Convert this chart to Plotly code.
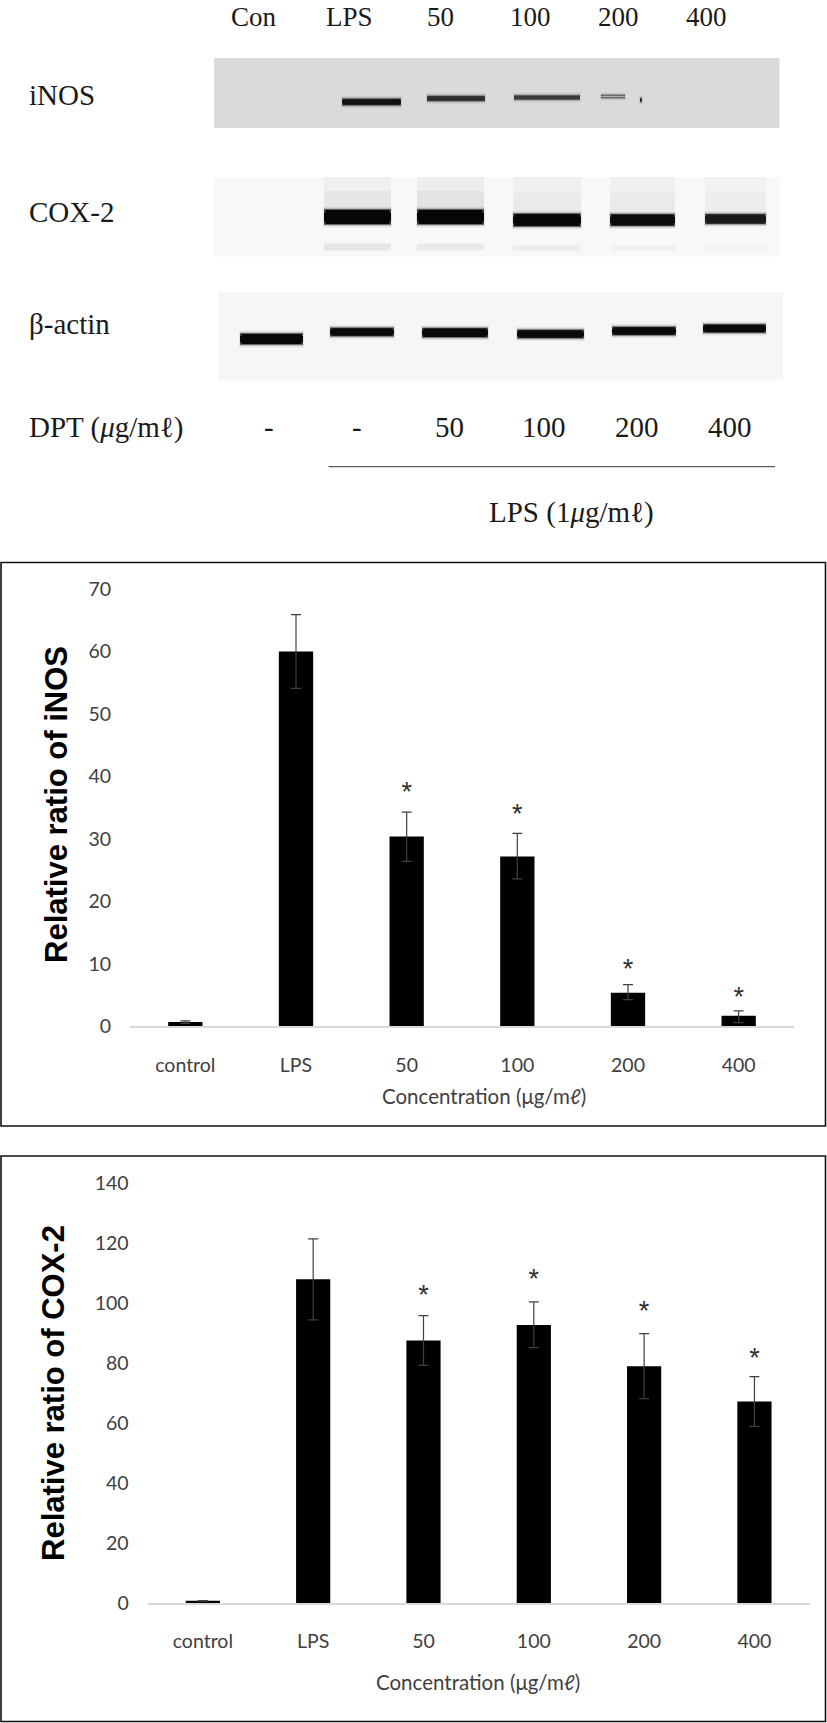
import plotly.graph_objects as go

W, H = 827, 1723

# ---- bar chart data ----
categories = ["control", "LPS", "50", "100", "200", "400"]
inos_values = [0.7, 60, 30.4, 27.2, 5.4, 1.7]
inos_err_plus = [0.2, 5.9, 3.9, 3.7, 1.3, 0.8]
inos_err_minus = [0.2, 5.9, 4.0, 3.6, 1.1, 1.1]
inos_star_level = [None, None, 37.1, 33.6, 8.8, 4.3]
inos_ticks = [0, 10, 20, 30, 40, 50, 60, 70]

cox_values = [0.7, 108, 87.6, 92.8, 79, 67.2]
cox_err_plus = [0.1, 13.5, 8.3, 7.7, 10.9, 8.3]
cox_err_minus = [0.1, 13.5, 8.3, 7.6, 10.8, 8.3]
cox_star_level = [None, None, 102, 107.3, 96.8, 81]
cox_ticks = [0, 20, 40, 60, 80, 100, 120, 140]

# ---- western blot bands: lane label, left, right, height, thickness, tone ----
inos_bands = [("LPS", 342, 401, 102, 5.5, "#111111"), ("50", 427, 485, 98.5, 4, "#2a2a2a"),
              ("100", 514, 580, 97.5, 3, "#3a3a3a"), ("200", 601, 625, 96.5, 1.5, "#b0b0b0"),
              ("200b", 640, 642, 100, 2.5, "#222222")]
cox_bands = [("LPS", 324, 391, 217, 14, "#060606"), ("50", 417, 484, 217, 14, "#060606"),
             ("100", 513, 581, 220, 12, "#080808"), ("200", 610, 675, 220, 11, "#0c0c0c"),
             ("400", 705, 766, 219, 9, "#1a1a1a")]
actin_bands = [("Con", 240, 303, 339, 10, "#060606"), ("LPS", 330, 394, 332, 7.5, "#0a0a0a"),
               ("50", 422, 488, 332.7, 8.5, "#0a0a0a"), ("100", 517, 584, 334, 7.5, "#0a0a0a"),
               ("200", 612, 676, 331, 7.5, "#0a0a0a"), ("400", 703, 766, 328.5, 7.5, "#0a0a0a")]
# faint smears: left, right, centre height, thickness, tone
cox_smears = [(324, 391, 194, 34, "rgba(0,0,0,0.035)"), (417, 484, 194, 34, "rgba(0,0,0,0.045)"),
              (513, 581, 194, 34, "rgba(0,0,0,0.03)"), (610, 675, 194, 34, "rgba(0,0,0,0.03)"),
              (705, 766, 194, 34, "rgba(0,0,0,0.025)"),
              (324, 391, 201, 20, "rgba(0,0,0,0.03)"), (417, 484, 201, 20, "rgba(0,0,0,0.04)"),
              (513, 581, 203, 20, "rgba(0,0,0,0.025)"), (610, 675, 203, 20, "rgba(0,0,0,0.025)"),
              (705, 766, 203, 20, "rgba(0,0,0,0.02)"),
              (324, 391, 247, 7, "rgba(0,0,0,0.07)"), (417, 484, 247, 7, "rgba(0,0,0,0.055)"),
              (513, 581, 248, 6, "rgba(0,0,0,0.04)"), (610, 675, 248, 6, "rgba(0,0,0,0.03)"),
              (705, 766, 248, 6, "rgba(0,0,0,0.015)")]

blot_panels = [(214, 779.5, 58, 128, "#dadada"), (214, 779.5, 177, 256.6, "#f8f8f8"),
               (218, 783, 292, 380.6, "#f6f6f6")]

SERIF = "Liberation Serif"
top_labels = [("Con", 254), ("LPS", 349), ("50", 440), ("100", 530), ("200", 618), ("400", 706)]
row_labels = [("iNOS", 95), ("COX-2", 212), ("β-actin", 324), ("DPT (<i>μ</i>g/mℓ)", 427)]
dose_labels = [("-", 269), ("-", 357), ("50", 449), ("100", 544), ("200", 637), ("400", 730)]

NARROW = "Lato"
TICK = "#404040"
TICK_SIZE = 19.5


def dom(top, bottom):
    return [1 - bottom / H, 1 - top / H]


fig = go.Figure()
fig.update_layout(template="none")

# overlay axes in image coordinates for the blot region and page furniture
fig.update_layout(
    xaxis3=dict(domain=[0, 1], range=[0, W], visible=False, anchor="y3", fixedrange=True, automargin=False),
    yaxis3=dict(domain=[0, 1], range=[H, 0], visible=False, anchor="x3", fixedrange=True, automargin=False),
)


def band(x0, x1, y, width, color):
    fig.add_trace(go.Scatter(x=[x0, x1], y=[y, y], mode="lines", xaxis="x3", yaxis="y3",
                             line=dict(color=color, width=width), hoverinfo="skip", showlegend=False))


for x0, x1, y, t, c in cox_smears:
    band(x0, x1, y, t, c)
for group in (inos_bands, cox_bands, actin_bands):
    for _, x0, x1, y, t, c in group:
        band(x0 - 1, x1 + 1, y, t + 7, "rgba(0,0,0,0.04)")
        band(x0 - 0.5, x1 + 0.5, y, t + 5, "rgba(0,0,0,0.07)")
        band(x0, x1, y, t + 3.5, "rgba(0,0,0,0.14)")
        band(x0, x1, y, t + 2, "rgba(0,0,0,0.28)")
        band(x0, x1, y, t + 0.8, "rgba(0,0,0,0.45)")
        band(x0, x1, y, t * 0.6, c)
        band(x0 + 1.5, x1 - 1.5, y, t, c)


def bars(values, plus, minus, stars, xa, ya):
    fig.add_trace(go.Bar(
        x=categories, y=values, xaxis=xa, yaxis=ya, width=0.31, marker=dict(color="#000000", line_width=0),
        error_y=dict(type="data", symmetric=False, array=plus, arrayminus=minus,
                     color="#404040", thickness=1.2, width=5),
        hoverinfo="skip", showlegend=False))
    fig.add_trace(go.Scatter(
        x=categories, y=stars, xaxis=xa, yaxis=ya, mode="text", text=["*" if s is not None else "" for s in stars],
        textposition="middle center", textfont=dict(family="Liberation Sans", size=27, color="#303030"),
        hoverinfo="skip", showlegend=False))


bars(inos_values, inos_err_plus, inos_err_minus, inos_star_level, "x", "y")
bars(cox_values, cox_err_plus, cox_err_minus, cox_star_level, "x2", "y2")


def xax(left, right, top, bottom, anchor):
    return dict(domain=[left / W, right / W], anchor=anchor, type="category", showline=True, linecolor="#d9d9d9",
                linewidth=1.5, ticks="", showgrid=False, zeroline=False, fixedrange=True, automargin=False,
                tickfont=dict(family=NARROW, size=TICK_SIZE, color=TICK), ticklabelstandoff=20)


def yax(top, bottom, rng, ticks, anchor):
    return dict(domain=dom(top, bottom), anchor=anchor, range=rng, tickvals=ticks, showline=False, ticks="",
                showgrid=False, zeroline=False, fixedrange=True, automargin=False,
                tickfont=dict(family=NARROW, size=TICK_SIZE, color=TICK), ticklabelstandoff=18)


shapes = []
for x0, x1, y0, y1, c in blot_panels:
    shapes.append(dict(type="rect", xref="x3", yref="y3", x0=x0, x1=x1, y0=y0, y1=y1, fillcolor=c, line_width=0,
                       layer="below"))
shapes.append(dict(type="line", xref="x3", yref="y3", x0=328.6, x1=775, y0=466.7, y1=466.7,
                   line=dict(color="#333333", width=1)))
for y0, y1 in [(562.5, 1126), (1156, 1721.5)]:
    shapes.append(dict(type="rect", xref="x3", yref="y3", x0=1, x1=825.5, y0=y0, y1=y1,
                       line=dict(color="#111111", width=1.6), fillcolor="rgba(0,0,0,0)"))

ann = []


def text(s, x, y, size, family=SERIF, color="#1a1a1a", anchor="center", **kw):
    ann.append(dict(text=s, x=x, y=y, xref="x3", yref="y3", showarrow=False, xanchor=anchor, yanchor="middle",
                    font=dict(family=family, size=size, color=color), **kw))


for s, x in top_labels:
    text(s, x, 17, 27)
for s, y in row_labels:
    text(s, 27, y, 29, anchor="left")
for s, x in dose_labels:
    text(s, x, 427, 29)
text("LPS (1<i>μ</i>g/mℓ)", 571, 512, 29)
text("<b>Relative ratio of iNOS</b>", 56, 805, 31, family="Liberation Sans", color="#000000", textangle=-90)
text("<b>Relative ratio of COX-2</b>", 53, 1393, 31, family="Liberation Sans", color="#000000", textangle=-90)
text("Concentration (μg/mℓ)", 484, 1096, 20.5, family=NARROW, color=TICK)
text("Concentration (μg/mℓ)", 478, 1682, 20.5, family=NARROW, color=TICK)

fig.update_layout(
    width=W, height=H, autosize=False, margin=dict(l=0, r=0, t=0, b=0, pad=0), paper_bgcolor="white",
    plot_bgcolor="rgba(0,0,0,0)",
    showlegend=False, shapes=shapes, annotations=ann,
    xaxis=xax(130, 794, 589, 1026.4, "y"),
    yaxis=yax(589, 1026.4, [0, 70], inos_ticks, "x"),
    xaxis2=xax(147.7, 809.6, 1183.5, 1602.9, "y2"),
    yaxis2=yax(1183.5, 1602.9, [0, 140], cox_ticks, "x2"),
)

fig.write_html("out.html", config={"displayModeBar": False},
               post_script="document.body.style.margin='0';document.documentElement.style.overflow='hidden';")
